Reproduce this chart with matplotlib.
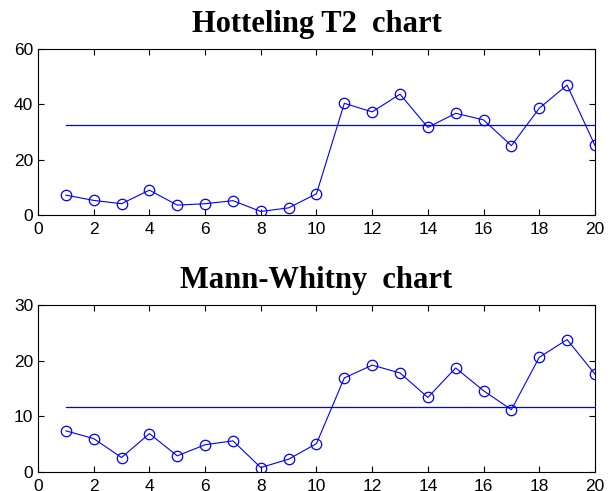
import matplotlib
matplotlib.use('Agg')
import matplotlib.pyplot as plt
import numpy as np

samples = np.arange(1, 21)

# Hotteling T2 statistic per sample and its control limit
t2_values = [7.2, 5.3, 4.1, 9.0, 3.6, 4.1, 5.2, 1.3, 2.6, 7.7,
             40.4, 37.3, 43.7, 31.7, 36.8, 34.4, 25.1, 38.6, 47.0, 25.2]
t2_limit = 32.6

# Mann-Whitny statistic per sample and its control limit
mw_values = [7.4, 6.0, 2.6, 6.9, 2.9, 4.9, 5.6, 0.8, 2.3, 5.1,
             16.9, 19.2, 17.8, 13.4, 18.7, 14.6, 11.2, 20.6, 23.8, 17.6]
mw_limit = 11.6

titles = ['Hotteling T2  chart', 'Mann-Whitny  chart']
ylims = [(0, 60), (0, 30)]
yticks = [[0, 20, 40, 60], [0, 10, 20, 30]]

plt.rcParams['font.family'] = ['Liberation Sans', 'DejaVu Sans']

fig = plt.figure(figsize=(6.1, 4.91), dpi=100)
ax1 = fig.add_axes([0.0623, 0.562, 0.913, 0.338])
ax2 = fig.add_axes([0.0623, 0.0387, 0.913, 0.340])

blue = '#0000ff'
for ax, vals, lim, title, yl, yt in zip([ax1, ax2], [t2_values, mw_values],
                                        [t2_limit, mw_limit], titles, ylims, yticks):
    ax.plot(samples, vals, '-o', color=blue, lw=0.8, markersize=7.5,
            markerfacecolor='none', markeredgewidth=0.9)
    ax.plot([samples[0], samples[-1]], [lim, lim], '-', color=blue, lw=0.9)
    ax.set_xlim(0, 20)
    ax.set_ylim(*yl)
    ax.set_xticks(range(0, 21, 2))
    ax.set_yticks(yt)
    ax.tick_params(direction='in', top=True, right=True, labelsize=12.5, length=4)
    ax.tick_params(axis='x', pad=5)
    ax.tick_params(axis='y', pad=3.5)
    ax.set_title(title, fontsize=22, fontweight='bold', family='Liberation Serif', pad=12)
    for s in ax.spines.values():
        s.set_linewidth(0.8)

fig.savefig('out.png', dpi=100)
